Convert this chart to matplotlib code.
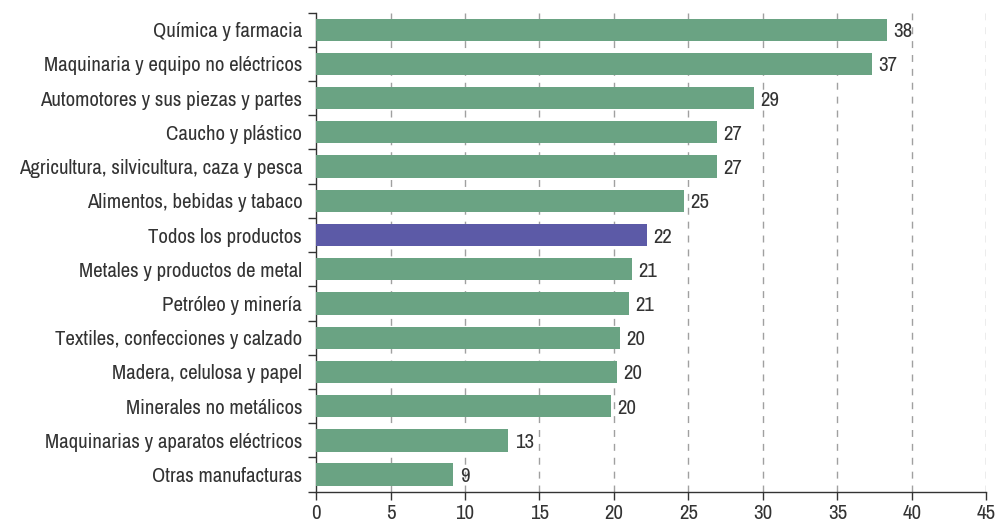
import matplotlib
matplotlib.use("Agg")
import matplotlib.pyplot as plt
from matplotlib import font_manager
import numpy as np

categories = [
    "Química y farmacia",
    "Maquinaria y equipo no eléctricos",
    "Automotores y sus piezas y partes",
    "Caucho y plástico",
    "Agricultura, silvicultura, caza y pesca",
    "Alimentos, bebidas y tabaco",
    "Todos los productos",
    "Metales y productos de metal",
    "Petróleo y minería",
    "Textiles, confecciones y calzado",
    "Madera, celulosa y papel",
    "Minerales no metálicos",
    "Maquinarias y aparatos eléctricos",
    "Otras manufacturas",
]
values = [38.3, 37.3, 29.4, 26.9, 26.9, 24.7, 22.2, 21.2, 21.0, 20.4, 20.2, 19.8, 12.9, 9.2]
highlight = "Todos los productos"
x_ticks = [0, 5, 10, 15, 20, 25, 30, 35, 40, 45]

GREEN = "#6aa383"
PURPLE = "#5c5aa7"
TEXT = "#333333"

# pick a narrow face if one is installed
names = sorted({f.name for f in font_manager.fontManager.ttflist})
narrow = [n for n in names if "Narrow" in n or "Condensed" in n]
plt.rcParams["font.family"] = narrow[:1] + ["DejaVu Sans"]
plt.rcParams["font.stretch"] = "condensed"
FS = 15


def main():
    fig = plt.figure(figsize=(9.96, 5.22), dpi=100)
    ax = fig.add_axes([0.3173, 0.058, 0.673, 0.918])

    y = np.arange(len(categories))
    colors = [PURPLE if c == highlight else GREEN for c in categories]
    ax.barh(y, values, height=0.65, color=colors, zorder=3)

    for yi, v in zip(y, values):
        ax.text(v + 0.45, yi + 0.06, f"{v:.0f}", va="center", ha="left",
                fontsize=FS, color=TEXT, zorder=4)

    ax.set_ylim(len(categories) - 0.5, -0.5)
    ax.set_xlim(0, 45)

    # boundary ticks between categories, labels at centers
    ax.set_yticks(np.arange(len(categories) + 1) - 0.5, labels=[])
    ax.set_yticks(y, labels=categories, minor=True)
    ax.tick_params(axis="y", which="minor", length=0, pad=10,
                   labelsize=FS, labelcolor=TEXT)
    ax.tick_params(axis="y", which="major", length=6, width=1, color=TEXT)

    ax.set_xticks(x_ticks)
    ax.tick_params(axis="x", length=5.5, width=1, color=TEXT, labelsize=FS,
                   labelcolor=TEXT, pad=3)

    for t in x_ticks[1:]:
        ax.axvline(t, color="#a0a0a0", linestyle=(0, (5, 5)), linewidth=1, zorder=1)

    for s in ["top", "right"]:
        ax.spines[s].set_visible(False)
    for s in ["left", "bottom"]:
        ax.spines[s].set_color(TEXT)
        ax.spines[s].set_linewidth(1)

    fig.savefig("out.png", dpi=100)
    plt.close(fig)


if __name__ == "__main__":
    main()
